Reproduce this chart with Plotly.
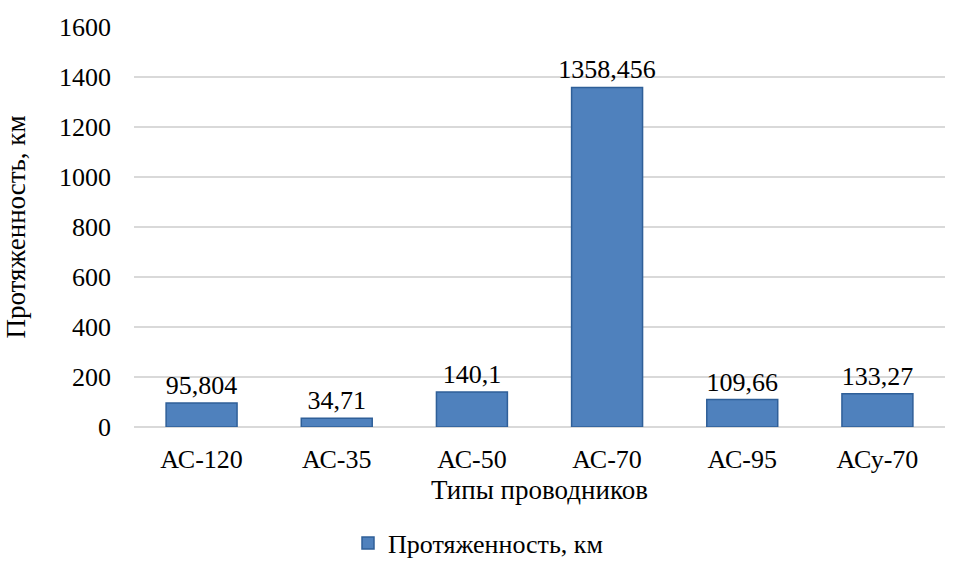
import plotly.graph_objects as go

categories = ["АС-120", "АС-35", "АС-50", "АС-70", "АС-95", "АСу-70"]
values = [95.804, 34.71, 140.1, 1358.456, 109.66, 133.27]
labels = ["95,804", "34,71", "140,1", "1358,456", "109,66", "133,27"]
y_ticks = [0, 200, 400, 600, 800, 1000, 1200, 1400, 1600]

FONT = "Liberation Serif, Times New Roman, serif"
FS = 26
FT = 27

fig = go.Figure()
fig.add_trace(go.Bar(
    x=categories, y=values, name="Протяженность, км",
    text=labels, textposition="outside", cliponaxis=False, constraintext="none",
    textfont=dict(family=FONT, size=FS, color="#000000"),
    marker=dict(color="#4f81bd", line=dict(color="#2f5f98", width=1.5)),
    width=0.525,
))

fig.update_layout(
    width=956, height=562,
    margin=dict(l=134, r=11, t=27, b=135, autoexpand=False),
    paper_bgcolor="white", plot_bgcolor="white",
    font=dict(family=FONT, size=FS, color="#000000"),
    showlegend=True,
    legend=dict(orientation="h", x=0.5, xanchor="center", xref="container",
                y=19/562, yanchor="middle", yref="container",
                font=dict(family=FONT, size=FS), itemwidth=30),
)
fig.update_xaxes(
    title=dict(text="Типы проводников", font=dict(family=FONT, size=FT), standoff=7),
    showgrid=False, showline=False, ticks="", automargin=False,
    tickfont=dict(family=FONT, size=FS), ticklabelstandoff=14,
)
fig.update_yaxes(
    title=dict(text="Протяженность, км", font=dict(family=FONT, size=FT), standoff=25),
    range=[0, 1600], tickvals=y_ticks, ticktext=[str(t) for t in y_ticks],
    showgrid=True, gridcolor="#d9d9d9", gridwidth=1.5, automargin=False,
    zeroline=True, zerolinecolor="#d9d9d9", zerolinewidth=1.5,
    tickfont=dict(family=FONT, size=FS), ticks="", ticklabelstandoff=22,
)

fig.write_html("out.html", config={"displayModeBar": False},
               post_script="document.body.style.margin='0';")
